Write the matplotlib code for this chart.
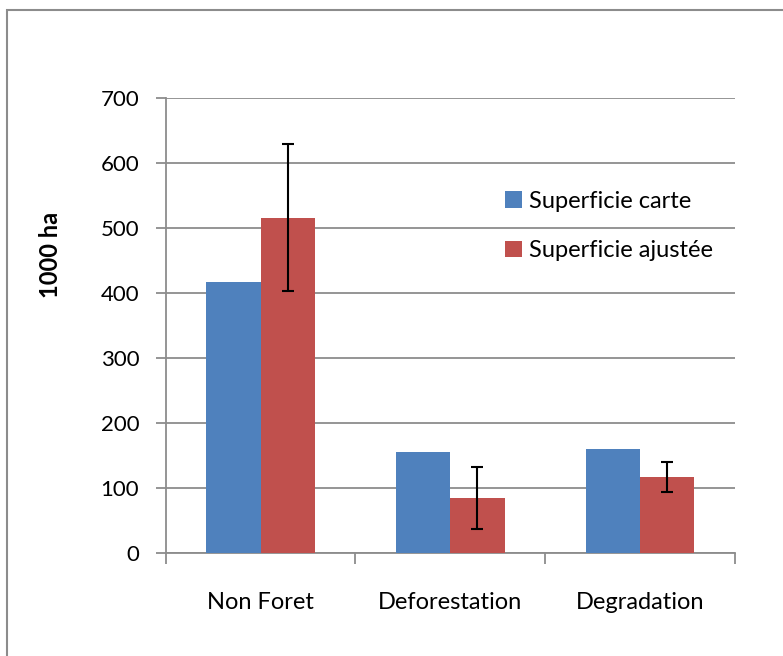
import matplotlib.pyplot as plt
from matplotlib.patches import Rectangle
import numpy as np

plt.rcParams['font.family'] = ['Lato', 'DejaVu Sans']

# Data
categories = ['Non Foret', 'Deforestation', 'Degradation']
carte = [417, 156, 160]
ajustee = [516, 85, 117]
err_ajustee = [113, 48, 23]

blue = '#4f81bd'
red = '#c0504d'
grey = '#8c8c8c'

fig = plt.figure(figsize=(7.83, 6.56), dpi=100)
ax = fig.add_axes([0.2116, 0.1566, 0.7271, 0.6936])

# Outer chart border (Excel style)
fig.patches.append(Rectangle((7 / 783, -0.1), 1.2, 1 - 10 / 656 + 0.1,
                             transform=fig.transFigure, fill=False,
                             edgecolor=grey, linewidth=1.5))

x = np.arange(len(categories))
w = 1 / 3.5
ax.bar(x - w / 2, carte, w, color=blue, label='Superficie carte', zorder=3)
ax.bar(x + w / 2, ajustee, w, color=red, label='Superficie ajustée', zorder=3)
ax.errorbar(x + w / 2, ajustee, yerr=err_ajustee, fmt='none', ecolor='black',
            elinewidth=1.5, capsize=4.5, capthick=1.5, zorder=4)

ax.set_xlim(-0.5, 2.5)
ax.set_ylim(0, 700)
ax.set_yticks(range(0, 701, 100))
ax.yaxis.grid(True, color=grey, linewidth=1.3, zorder=0)
ax.set_axisbelow(True)

ax.set_xticks(x)
ax.set_xticklabels(categories, fontsize=17)
ax.set_xticks([-0.5, 0.5, 1.5, 2.5], minor=True)
ax.tick_params(axis='x', which='major', length=0, pad=28)
ax.tick_params(axis='x', which='minor', length=8, color=grey, width=1.3)
ax.tick_params(axis='y', length=7, color=grey, width=1.3, labelsize=16, pad=12)

for s in ['top', 'right']:
    ax.spines[s].set_visible(False)
for s in ['left', 'bottom']:
    ax.spines[s].set_color(grey)
    ax.spines[s].set_linewidth(1.3)

ax.set_ylabel('1000 ha', fontsize=17, fontweight='bold', va='center')
ax.yaxis.set_label_coords(-0.203, 0.656)

ax.legend(loc='upper left', bbox_to_anchor=(0.58, 0.817), frameon=False,
          fontsize=17, handlelength=0.7, handleheight=0.7, handletextpad=0.3,
          labelspacing=1.2, borderaxespad=0)

fig.savefig('out.png', dpi=100)
